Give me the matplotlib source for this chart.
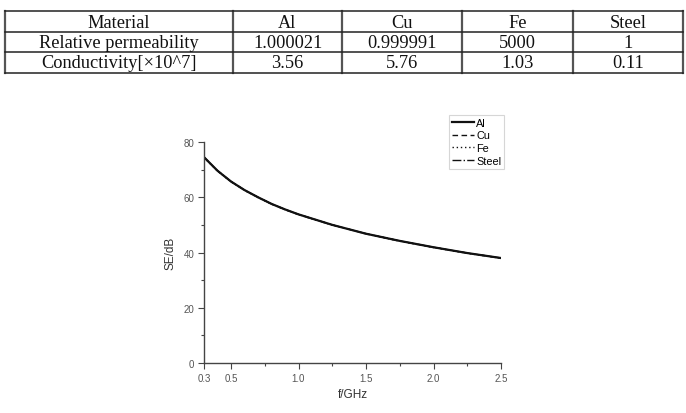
import matplotlib.pyplot as plt
from matplotlib.ticker import MultipleLocator

# table data
header = ['Material', 'Al', 'Cu', 'Fe', 'Steel']
permeability = ['Relative permeability', '1.000021', '0.999991', '5000', '1']
conductivity = ['Conductivity[\u00d710^7]', '3.56', '5.76', '1.03', '0.11']

# shielding effectiveness curves (all four overlap)
freq = [0.3, 0.4, 0.5, 0.6, 0.7, 0.8, 0.9, 1.0, 1.25, 1.5, 1.75, 2.0, 2.25, 2.5]
se_al = [74.5, 69.6, 65.7, 62.6, 60.0, 57.6, 55.6, 53.8, 50.0, 46.8, 44.2, 41.9, 39.8, 38.0]
se_cu = [74.5, 69.6, 65.7, 62.6, 60.0, 57.6, 55.6, 53.8, 50.0, 46.8, 44.2, 41.9, 39.8, 38.0]
se_fe = [74.4, 69.5, 65.6, 62.5, 59.9, 57.5, 55.5, 53.7, 49.9, 46.7, 44.1, 41.8, 39.7, 37.9]
se_steel = [74.5, 69.6, 65.7, 62.6, 60.0, 57.6, 55.6, 53.8, 50.0, 46.8, 44.2, 41.9, 39.8, 38.0]

W, H = 686, 414
fig = plt.figure(figsize=(W / 100, H / 100), dpi=100)

# ---- table drawn in figure pixel coordinates ----
col_x = [5, 233, 342, 462, 573, 683]
row_y = [12, 33, 53, 74]
tab = fig.add_axes([0, 0, 1, 1])
tab.set_xlim(0, W)
tab.set_ylim(H, 0)
tab.axis('off')
for x in col_x:
    tab.plot([x, x], [row_y[0], row_y[-1]], color='#555555', lw=1.6)
for y in row_y:
    tab.plot([col_x[0], col_x[-1]], [y, y], color='#222222', lw=1.1)
for r, row in enumerate([header, permeability, conductivity]):
    yc = (row_y[r] + row_y[r + 1]) / 2
    for c, txt in enumerate(row):
        xc = (col_x[c] + col_x[c + 1]) / 2
        tab.text(xc, yc + 0.5, txt, ha='center', va='center', fontsize=13.2,
                 family='Liberation Serif', color='#111111')

# ---- line chart ----
ax = fig.add_axes([204 / W, 1 - 364 / H, (501 - 204) / W, (364 - 143) / H])
ax.plot(freq, se_al, color='#111111', lw=1.6, ls='-', label='Al')
ax.plot(freq, se_cu, color='#111111', lw=1.0, ls=(0, (4, 2.5)), label='Cu')
ax.plot(freq, se_fe, color='#111111', lw=1.0, ls=(0, (1, 2)), label='Fe')
ax.plot(freq, se_steel, color='#111111', lw=1.0, ls='-.', label='Steel')

ax.set_xlim(0.3, 2.5)
ax.set_ylim(0, 80)
ax.set_xticks([0.3, 0.5, 1.0, 1.5, 2.0, 2.5])
ax.set_xticklabels(['0.3', '0.5', '1.0', '1.5', '2.0', '2.5'])
ax.xaxis.set_minor_locator(MultipleLocator(0.25))
ax.set_yticks([0, 20, 40, 60, 80])
ax.yaxis.set_minor_locator(MultipleLocator(10))
for s in ['top', 'right']:
    ax.spines[s].set_visible(False)
for s in ['left', 'bottom']:
    ax.spines[s].set_color('#444444')
    ax.spines[s].set_linewidth(1.0)
ax.tick_params(which='major', length=4, width=0.8, color='#444444',
               labelsize=7, labelcolor='#555555', pad=3)
ax.tick_params(which='minor', length=2.5, width=0.8, color='#444444')
for lab in ax.get_xticklabels() + ax.get_yticklabels():
    lab.set_family('Liberation Sans')
ax.set_xlabel('f/GHz', fontsize=8.5, family='Liberation Sans', color='#333333', labelpad=4)
ax.set_ylabel('SE/dB', fontsize=8.5, family='Liberation Sans', color='#333333', labelpad=5)

leg = ax.legend(loc='upper left', bbox_to_anchor=((449 - 204) / (501 - 204), 1 + (143 - 116) / (364 - 143)),
                prop={'family': 'Liberation Sans', 'size': 7.8}, frameon=True, fancybox=False,
                handlelength=2.1, handletextpad=0.15, borderpad=0.25, labelspacing=0.25,
                borderaxespad=0)
leg.get_frame().set_edgecolor('#cccccc')
leg.get_frame().set_linewidth(0.8)

fig.savefig('out.png', dpi=100)
